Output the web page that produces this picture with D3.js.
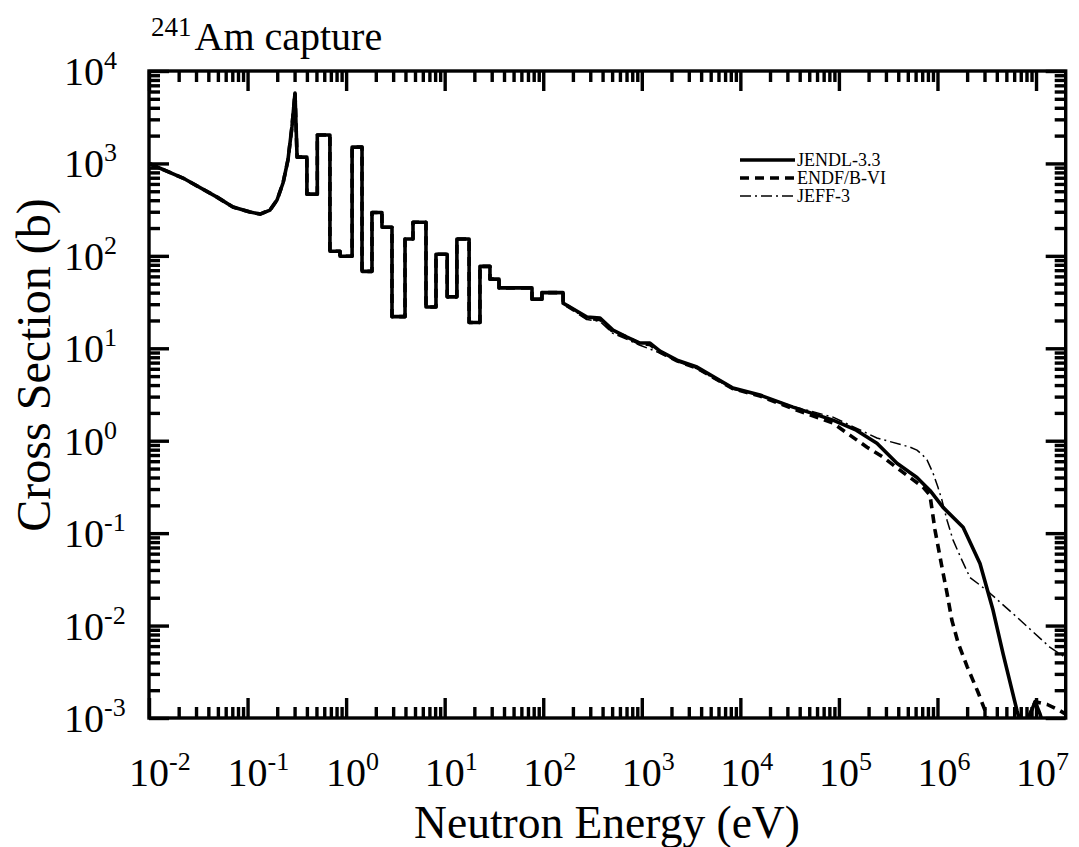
<!DOCTYPE html>
<html><head><meta charset="utf-8">
<script src="https://cdn.jsdelivr.net/npm/d3@7"></script>
<style>body{margin:0;background:#fff}svg{display:block}</style>
</head><body>
<script>
// ---------------- data ----------------
// thermal region + first resonance (shared by all three evaluations)
const thermalE  = [0.01, 0.0221, 0.049, 0.0711, 0.106, 0.134, 0.169, 0.199, 0.229, 0.257, 0.282, 0.303, 0.318];
const thermalXS = [1000, 695, 432, 337, 298, 283, 313, 402, 614, 1090, 2480, 5780, 1170];
// group-averaged resolved resonance region (bin edges, values)
const stepEdges = [0.318, 0.40, 0.51, 0.685, 0.867, 1.15, 1.45, 1.83, 2.31, 2.92, 3.96, 4.77, 6.46, 8.16, 10.6, 13.3, 17.7, 22.8, 28.8, 35.6, 76.9, 97, 159];
const stepXS    = [1170, 465, 2030, 112, 99, 1500, 68, 295, 204, 22, 152, 231, 28, 104, 36, 152, 19, 77, 56, 45, 34, 40];
// JENDL-3.3 above 159 eV
const jendlE  = [159, 278, 377, 510, 708, 959, 1211, 1530, 2280, 3630, 8410, 15800, 34200, 87100, 150000, 243000, 388000, 619000, 839000, 1.14e6, 1.82e6, 2.7e6, 3.66e6, 4.62e6, 6.41e6, 7.2e6, 8.7e6, 9.8e6, 1.1e7, 1.25e7];
const jendlXS = [30.8, 21.8, 21.2, 15.7, 13.2, 11.4, 11.4, 9.3, 7.45, 6.27, 3.71, 3.12, 2.31, 1.67, 1.3, 0.94, 0.57, 0.40, 0.29, 0.19, 0.116, 0.047, 0.0147, 0.005, 0.0012, 0.0008, 0.0011, 0.0015, 0.0011, 0.0007];
// ENDF/B-VI above 159 eV
const endfE  = [159, 278, 377, 510, 708, 959, 1211, 1530, 2280, 3630, 8410, 15800, 34200, 87100, 129000, 193000, 280000, 417000, 713000, 839000, 944000, 1.11e6, 1.25e6, 1.4e6, 1.62e6, 2.0e6, 2.58e6, 3.04e6, 3.18e6, 5e6, 8e6, 9.8e6, 1.3e7, 1.75e7, 2e7];
const endfXS = [30.8, 21, 20.5, 15.2, 13.2, 11.2, 11.0, 9.1, 7.3, 6.1, 3.65, 3.05, 2.22, 1.55, 1.15, 0.85, 0.665, 0.48, 0.315, 0.258, 0.108, 0.043, 0.0224, 0.0114, 0.0065, 0.0036, 0.0019, 0.0012, 0.001, 0.0006, 0.0009, 0.0015, 0.0014, 0.0012, 0.0011];
// JEFF-3 above 159 eV
const jeffE  = [159, 278, 377, 510, 708, 959, 1530, 2280, 3630, 8410, 15800, 34200, 87100, 243000, 447000, 530000, 619000, 700000, 783000, 902000, 1.01e6, 1.11e6, 1.25e6, 1.44e6, 1.77e6, 2.14e6, 2.7e6, 3.41e6, 6.41e6, 1.39e7, 2e7];
const jeffXS = [30.8, 20.5, 19.5, 14.5, 12.5, 10.8, 8.9, 7.2, 6.0, 3.6, 3.1, 2.35, 1.8, 1.07, 0.895, 0.85, 0.79, 0.71, 0.62, 0.446, 0.315, 0.228, 0.138, 0.084, 0.051, 0.033, 0.0274, 0.0224, 0.0123, 0.0058, 0.0045];

const xMajorExp = [-2, -1, 0, 1, 2, 3, 4, 5, 6, 7];
const yMajorExp = [-3, -2, -1, 0, 1, 2, 3, 4];
const minorMult = [2, 3, 4, 5, 6, 7, 8, 9];
const legendNames = ["JENDL-3.3", "ENDF/B-VI", "JEFF-3"];
const titleIso = "241", titleText = "Am capture";
const xTitle = "Neutron Energy (eV)", yTitle = "Cross Section (b)";

// ---------------- layout ----------------
const W = 1079, H = 847;
const L = 149, R = 1065.7, T = 71, B = 718;
const FONT = "'Liberation Serif','Times New Roman',serif";

const svg = d3.select("body").append("svg").attr("width", W).attr("height", H);
svg.append("rect").attr("width", W).attr("height", H).attr("fill", "#fff");

const xs = d3.scaleLog().domain([0.01, 2e7]).range([L, R]);
const ys = d3.scaleLog().domain([1e-3, 1e4]).range([B, T]);

function seriesPoints(hiE, hiXS) {
  const pts = thermalE.map((e, i) => [e, thermalXS[i]]);
  for (let i = 0; i < stepXS.length; i++) {
    pts.push([stepEdges[i], stepXS[i]]);
    pts.push([stepEdges[i + 1], stepXS[i]]);
  }
  hiE.forEach((e, i) => pts.push([e, hiXS[i]]));
  return pts;
}

const defs = svg.append("defs");
defs.append("clipPath").attr("id", "clip").append("rect")
  .attr("x", L).attr("y", T).attr("width", R - L).attr("height", B - T);

const line = d3.line().x(d => xs(d[0])).y(d => ys(d[1]));
const plot = svg.append("g").attr("clip-path", "url(#clip)");

const styles = [
  {w: 3.6, dash: null},
  {w: 3.6, dash: "9,6"},
  {w: 1.5, dash: "11,4,2,4"}
];
const series = [seriesPoints(jendlE, jendlXS), seriesPoints(endfE, endfXS), seriesPoints(jeffE, jeffXS)];
series.forEach((pts, i) => {
  plot.append("path").datum(pts).attr("d", line)
    .attr("fill", "none").attr("stroke", "#000")
    .attr("stroke-width", styles[i].w)
    .attr("stroke-dasharray", styles[i].dash)
    .attr("stroke-linejoin", "round");
});

// ---------------- ticks (inward, all four sides) ----------------
const xMajor = xMajorExp.map(p => Math.pow(10, p));
const xMinor = [];
xMajorExp.forEach(p => minorMult.forEach(m => { const v = m * Math.pow(10, p); if (v < 2e7) xMinor.push(v); }));
const yMajor = yMajorExp.map(p => Math.pow(10, p));
const yMinor = [];
yMajorExp.forEach(p => minorMult.forEach(m => { const v = m * Math.pow(10, p); if (v < 1e4) yMinor.push(v); }));

const MAJ = 20, MIN = 11, TW = 3.4;
const axG = svg.append("g");
[[d3.axisBottom(xs), B, xMajor, MAJ], [d3.axisBottom(xs), B, xMinor, MIN],
 [d3.axisTop(xs), T, xMajor, MAJ], [d3.axisTop(xs), T, xMinor, MIN]].forEach(([ax, ty, vals, len]) => {
  const g = axG.append("g").attr("transform", "translate(0," + ty + ")")
    .call(ax.tickValues(vals).tickSizeInner(-len).tickSizeOuter(0).tickFormat(() => ""));
  g.select(".domain").remove();
  g.selectAll(".tick line").attr("stroke", "#000").attr("stroke-width", TW);
});
[[d3.axisLeft(ys), L, yMajor, MAJ], [d3.axisLeft(ys), L, yMinor, MIN],
 [d3.axisRight(ys), R, yMajor, MAJ], [d3.axisRight(ys), R, yMinor, MIN]].forEach(([ax, tx, vals, len]) => {
  const g = axG.append("g").attr("transform", "translate(" + tx + ",0)")
    .call(ax.tickValues(vals).tickSizeInner(-len).tickSizeOuter(0).tickFormat(() => ""));
  g.select(".domain").remove();
  g.selectAll(".tick line").attr("stroke", "#000").attr("stroke-width", TW);
});

// frame
svg.append("rect").attr("x", L).attr("y", T).attr("width", R - L).attr("height", B - T)
  .attr("fill", "none").attr("stroke", "#000").attr("stroke-width", 3.4);

// ---------------- tick labels ----------------
const FS = 40, SUP = 26;
xMajorExp.forEach(p => {
  const t = svg.append("text").attr("x", xs(Math.pow(10, p)) - FS * 0.5).attr("y", 786)
    .attr("font-family", FONT).attr("font-size", FS).attr("fill", "#000");
  t.append("tspan").text("10");
  t.append("tspan").attr("font-size", SUP).attr("dy", -16).text(p < 0 ? "-" + (-p) : String(p));
});
yMajorExp.forEach(p => {
  const t = svg.append("text").attr("x", 64).attr("y", ys(Math.pow(10, p)) + 14)
    .attr("font-family", FONT).attr("font-size", FS).attr("fill", "#000");
  t.append("tspan").text("10");
  t.append("tspan").attr("font-size", SUP).attr("dy", -16).text(p < 0 ? "-" + (-p) : String(p));
});

// ---------------- axis titles ----------------
svg.append("text").attr("x", 607).attr("y", 838).attr("text-anchor", "middle")
  .attr("font-family", FONT).attr("font-size", 45.5).text(xTitle);
svg.append("text").attr("transform", "translate(50,365) rotate(-90)").attr("text-anchor", "middle")
  .attr("font-family", FONT).attr("font-size", 48).text(yTitle);

// ---------------- title ----------------
const tt = svg.append("text").attr("x", 151).attr("y", 50).attr("font-family", FONT).attr("fill", "#000");
tt.append("tspan").attr("font-size", 27).attr("dy", -14).text(titleIso);
tt.append("tspan").attr("font-size", 40).attr("dy", 14).attr("dx", 3).text(titleText);

// ---------------- legend ----------------
const lg = svg.append("g");
legendNames.forEach((n, i) => {
  const ly = 160 + i * 18;
  lg.append("line").attr("x1", 740).attr("x2", 795).attr("y1", ly).attr("y2", ly)
    .attr("stroke", "#000").attr("stroke-width", styles[i].w)
    .attr("stroke-dasharray", styles[i].dash);
  lg.append("text").attr("x", 797).attr("y", ly + 6).attr("font-family", FONT)
    .attr("font-size", 18).text(n);
});
</script>
</body></html>
